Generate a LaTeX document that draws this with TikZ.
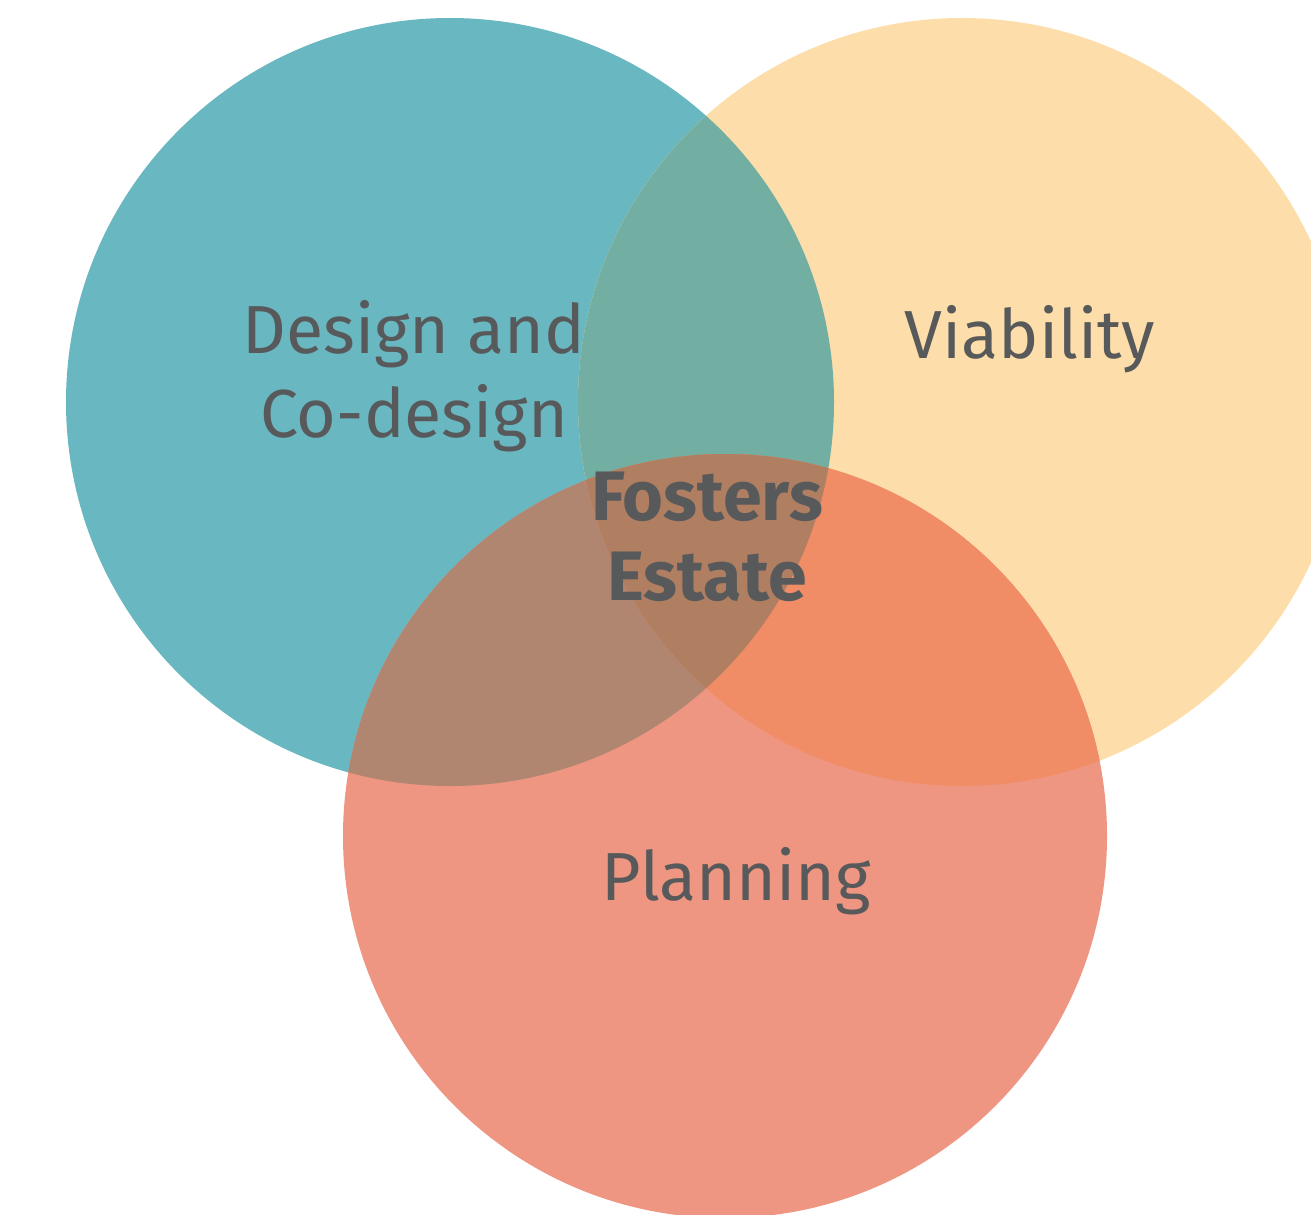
\documentclass[tikz,border=0pt]{standalone}
\usepackage{fontspec}
\setmainfont{Fira Sans}
\definecolor{cteal}{HTML}{69B7C0}
\definecolor{cyel}{HTML}{FDDEAA}
\definecolor{csal}{HTML}{EF9682}
\definecolor{cty}{HTML}{72AEA2}
\definecolor{cts}{HTML}{B18671}
\definecolor{cys}{HTML}{F08D66}
\definecolor{ctys}{HTML}{B07E61}
\definecolor{ctext}{HTML}{58595B}
\tikzset{
  lbl/.style={text=ctext, font=\fontsize{68bp}{84bp}\selectfont, align=center, anchor=base, inner sep=0pt},
  lblbold/.style={text=ctext, font=\fontsize{70bp}{80bp}\selectfont\bfseries, align=center, anchor=base, inner sep=0pt},
}
\begin{document}
\begin{tikzpicture}[x=1bp,y=-1bp]
\useasboundingbox (0,0) rectangle (1311,1214);
\clip (0,0) rectangle (1311,1214);
\coordinate (T) at (450,402);
\coordinate (Y) at (962,402);
\coordinate (S) at (725,836);
\fill[cteal] (T) circle[radius=384bp];
\fill[cyel] (Y) circle[radius=384bp];
\fill[csal] (S) circle[radius=382bp];
\begin{scope}
  \clip (T) circle[radius=384bp];
  \fill[cty] (Y) circle[radius=384bp];
  \fill[cts] (S) circle[radius=382bp];
\end{scope}
\begin{scope}
  \clip (Y) circle[radius=384bp];
  \fill[cys] (S) circle[radius=382bp];
\end{scope}
\begin{scope}
  \clip (T) circle[radius=384bp];
  \clip (Y) circle[radius=384bp];
  \fill[ctys] (S) circle[radius=382bp];
\end{scope}
\node[lbl] (design) at (414,437) {Design and\\Co-design};
\node[lbl] (viab) at (1030,358) {Viability};
\node[lbl] (plan) at (736,900) {Planning};
\node[lblbold] (fost) at (707,600) {Fosters\\Estate};
\end{tikzpicture}
\end{document}
